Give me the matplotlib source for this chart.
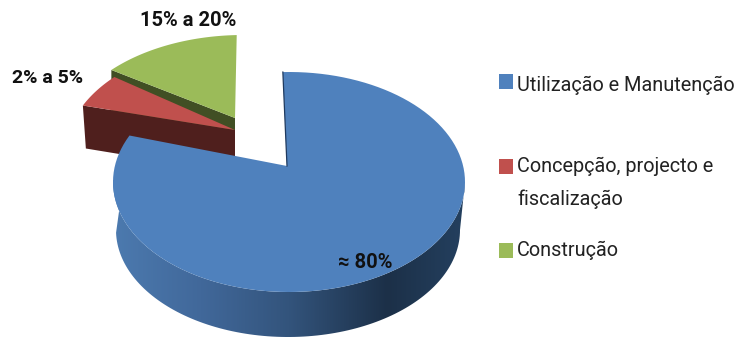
import numpy as np
import matplotlib
matplotlib.use('Agg')
import matplotlib.pyplot as plt
from matplotlib.colors import LinearSegmentedColormap
from matplotlib.patches import PathPatch, Rectangle
from matplotlib.path import Path

plt.rcParams['font.family'] = ['Roboto', 'DejaVu Sans']

# chart data
categories = ['Utilização e Manutenção', 'Concepção, projecto e\nfiscalização', 'Construção']
shares = [82.5, 5, 12.5]
value_labels = ['≈ 80%', '2% a 5%', '15% a 20%']
top_colors = ['#4f81bd', '#c0504d', '#9bbb59']
side_colors = ['#1f3a5f', '#4f1f1d', '#414f24']

START_ANGLE = 92  # degrees on the ellipse, going clockwise


def rim(cx, cy, rx, ry, a0, a1, n=120):
    t = np.radians(np.linspace(a0, a1, n))
    return np.column_stack([cx + rx * np.cos(t), cy - ry * np.sin(t)])


def fill(ax, pts, color, z):
    ax.fill(pts[:, 0], pts[:, 1], color=color, lw=0, zorder=z)


fig = plt.figure(figsize=(7.39, 3.38), dpi=100)
ax = fig.add_axes([0, 0, 1, 1])

# slice angles come from the shares
spans = np.array(shares) / sum(shares) * 360
blue_a0 = START_ANGLE
blue_a1 = blue_a0 - spans[0]
# the other two carry on clockwise, red first then green
red_a0 = blue_a1 + 360
red_a1 = red_a0 - spans[1]
green_a0 = red_a1
green_a1 = green_a0 - spans[2]

# green slice, pulled out
g_rim = rim(243, 145, 180, 110, green_a1, green_a0)
g_apex = np.array([[235, 118]])
g_side = np.vstack([g_apex, g_rim[-1:], g_rim[-1:] + [0, 43], g_apex + [0, 43]])
fill(ax, g_side, side_colors[2], 1)

# red slice, pulled out
r_rim = rim(246, 152, 180, 110, red_a1, red_a0)
r_apex = np.array([[235, 130]])
r_side = np.vstack([r_apex, r_rim[-1:], r_rim[-1:] + [3, 43], r_apex + [0, 43]])
fill(ax, r_side, side_colors[1], 2)
fill(ax, np.vstack([r_apex, r_rim]), top_colors[1], 3)
fill(ax, np.vstack([g_apex, g_rim]), top_colors[2], 4)

# blue slice: side band with a shaded gradient, then the top
b_top = rim(289, 182, 176, 110, red_a0, 360)
b_low = rim(288, 230, 172, 107, 360, 180)
band = np.vstack([b_top, b_low])
codes = [Path.MOVETO] + [Path.LINETO] * (len(band) - 2) + [Path.CLOSEPOLY]
clip = PathPatch(Path(band, codes), transform=ax.transData, fc='none', ec='none')
ax.add_patch(clip)
shade = LinearSegmentedColormap.from_list('shade', [
    (0.00, '#4c7aaf'), (0.25, '#41689a'), (0.50, '#33547c'),
    (0.78, '#1c3048'), (1.00, '#24405f')])
img = ax.imshow(np.linspace(0, 1, 256)[None, :], cmap=shade, aspect='auto',
                extent=(113, 465, 338, 180), zorder=5)
img.set_clip_path(clip)

b_rim = rim(289, 182, 176, 110, blue_a0, blue_a1)
b_apex = np.array([[287, 166]])
fill(ax, np.vstack([b_apex, b_rim]), top_colors[0], 6)
ax.plot([b_rim[0, 0], b_apex[0, 0]], [b_rim[0, 1], b_apex[0, 1]],
        color=side_colors[0], lw=0.9, zorder=7)

# value labels
ax.text(365, 262, value_labels[0], ha='center', va='center', fontsize=14.5, color='#111111', zorder=8, fontweight='bold')
ax.text(48, 78, value_labels[1], ha='center', va='center', fontsize=14, color='#111111', zorder=8, fontweight='bold')
ax.text(188, 21, value_labels[2], ha='center', va='center', fontsize=14.5, color='#111111', zorder=8, fontweight='bold')

# legend, laid out by hand because the gaps are uneven
legend_y = [85, 183, 250]
swatch_y = [74, 159, 243]
for name, color, y, sy in zip(categories, top_colors, legend_y, swatch_y):
    ax.add_patch(Rectangle((499, sy), 14, 15, fc=color, ec='none', zorder=8))
    ax.text(517, y, name, ha='left', va='center', fontsize=14.3, color='#222222',
            linespacing=1.85, zorder=8)

ax.set_xlim(0, 739)
ax.set_ylim(338, 0)
ax.axis('off')
fig.savefig('out.png', dpi=100, facecolor='white')
